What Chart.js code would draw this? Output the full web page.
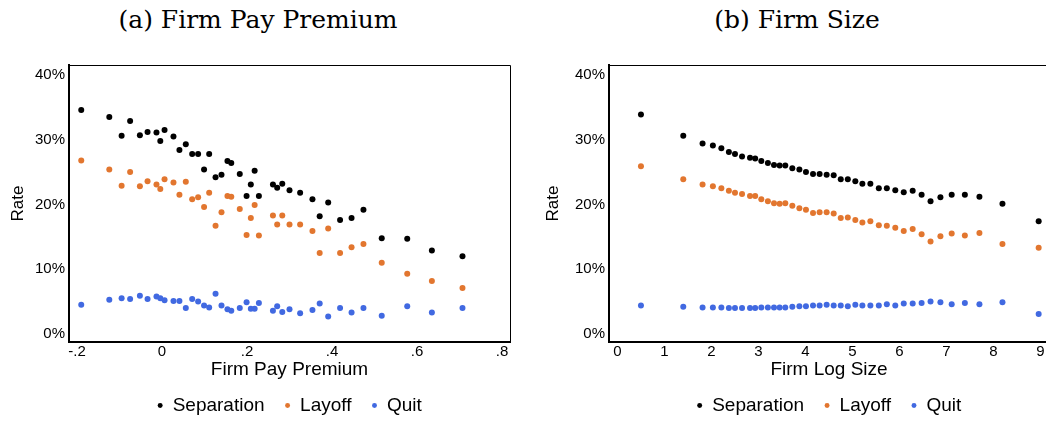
<!DOCTYPE html>
<html>
<head>
<meta charset="utf-8">
<script src="https://cdn.jsdelivr.net/npm/chart.js@4.4.1/dist/chart.umd.min.js"></script>
<style>
  html, body { margin: 0; padding: 0; background: #fff; }
  #page { position: relative; width: 1046px; height: 421px; overflow: hidden; }
  .panel-title {
    position: absolute; top: 5px; height: 30px; line-height: 30px;
    text-align: center; font-family: "DejaVu Serif", serif; font-size: 25px; color: #000;
  }
  canvas { position: absolute; top: 0; }
</style>
</head>
<body>
<div id="page">
  <div class="panel-title" style="left:0;width:516px">(a) Firm Pay Premium</div>
  <div class="panel-title" style="left:523px;width:548px">(b) Firm Size</div>
  <canvas id="premiumChart" width="516" height="425" style="left:0"></canvas>
  <canvas id="sizeChart" width="548" height="425" style="left:523px"></canvas>
</div>

<script>
// =================== DATA ===================

const seriesNames = ['Separation', 'Layoff', 'Quit'];
const seriesColors = ['#000000', '#E2762F', '#4169E1'];
const rateTicks = [0, 10, 20, 30, 40];

// (a) firm pay premium bins
const premiumX = [-0.19, -0.124, -0.095, -0.075, -0.052, -0.034, -0.013, -0.004, 0.006, 0.027,
  0.041, 0.056, 0.071, 0.085, 0.099, 0.111, 0.126, 0.140, 0.154, 0.163,
  0.183, 0.199, 0.209, 0.218, 0.228, 0.261, 0.271, 0.283, 0.300, 0.325,
  0.354, 0.371, 0.391, 0.419, 0.446, 0.474, 0.517, 0.577, 0.635, 0.707];
const premiumSeparation = [34.6, 33.5, 30.6, 32.9, 30.7, 31.2, 31.1, 29.8, 31.5, 30.5,
  28.4, 29.3, 27.8, 27.8, 25.4, 27.8, 24.2, 24.6, 26.7, 26.4,
  24.7, 21.3, 23.1, 25.2, 21.3, 23.1, 22.6, 23.2, 22.2, 21.8,
  20.8, 18.2, 20.3, 17.6, 17.9, 19.2, 14.8, 14.7, 12.9, 12.0];
const premiumLayoff = [26.8, 25.4, 22.9, 25.0, 22.8, 23.6, 23.1, 22.4, 23.9, 23.4,
  21.5, 23.5, 20.8, 21.1, 19.6, 21.8, 16.7, 18.8, 21.3, 21.2,
  19.3, 15.3, 17.9, 19.9, 15.2, 18.3, 16.9, 18.3, 16.9, 16.9,
  15.9, 12.5, 16.3, 12.5, 13.4, 13.9, 11.0, 9.3, 8.2, 7.1];
const premiumQuit = [4.5, 5.3, 5.5, 5.4, 5.9, 5.4, 5.8, 5.5, 5.2, 5.1,
  5.1, 4.0, 5.4, 5.0, 4.4, 4.1, 6.2, 4.4, 3.8, 3.6,
  4.0, 4.9, 3.9, 3.9, 4.8, 3.6, 4.3, 3.4, 3.8, 3.2,
  3.7, 4.7, 2.7, 4.0, 3.3, 4.0, 2.8, 4.3, 3.3, 4.0];
const premiumTicks = [-0.2, 0, 0.2, 0.4, 0.6, 0.8];
const premiumTickLabels = ['-.2', '0', '.2', '.4', '.6', '.8'];

// (b) firm log size bins
const sizeX = [0.50, 1.40, 1.81, 2.03, 2.21, 2.37, 2.50, 2.65, 2.82, 2.93,
  3.06, 3.20, 3.33, 3.45, 3.57, 3.72, 3.87, 4.01, 4.16, 4.30,
  4.45, 4.60, 4.75, 4.90, 5.06, 5.21, 5.38, 5.56, 5.73, 5.91,
  6.09, 6.28, 6.47, 6.66, 6.87, 7.11, 7.39, 7.70, 8.19, 8.96];
const sizeSeparation = [33.9, 30.6, 29.4, 29.1, 28.7, 28.1, 27.8, 27.4, 27.2, 27.1,
  26.7, 26.4, 26.1, 26.0, 26.0, 25.6, 25.4, 25.0, 24.7, 24.7,
  24.6, 24.5, 23.9, 23.9, 23.6, 23.2, 23.2, 22.5, 22.5, 22.2,
  21.9, 22.1, 21.5, 20.5, 21.1, 21.5, 21.5, 21.2, 20.1, 17.4];
const sizeLayoff = [25.9, 23.9, 23.1, 22.8, 22.5, 22.1, 21.8, 21.6, 21.3, 21.3,
  20.8, 20.5, 20.2, 20.1, 20.2, 19.8, 19.4, 19.2, 18.7, 18.8,
  18.8, 18.6, 17.9, 18.0, 17.6, 17.2, 17.4, 16.8, 16.7, 16.4,
  15.9, 16.2, 15.4, 14.3, 15.1, 15.5, 15.2, 15.6, 13.9, 13.3];
const sizeQuit = [4.4, 4.2, 4.1, 4.1, 4.1, 4.0, 4.0, 4.0, 4.0, 4.0,
  4.1, 4.1, 4.1, 4.1, 4.1, 4.2, 4.3, 4.3, 4.4, 4.4,
  4.5, 4.4, 4.4, 4.3, 4.5, 4.4, 4.4, 4.4, 4.6, 4.4,
  4.7, 4.7, 4.8, 5.0, 4.9, 4.6, 4.8, 4.6, 4.9, 3.1];
const sizeTicks = [0, 1, 2, 3, 4, 5, 6, 7, 8, 9];
const sizeTickLabels = ['0', '1', '2', '3', '4', '5', '6', '7', '8', '9'];


// =================== CHART SETUP ===================

Chart.defaults.font.family = '"Liberation Sans", Arial, sans-serif';
Chart.defaults.color = '#000';

// thin top/right edge of the plot box
const plotFrame = {
  id: 'plotFrame',
  afterDraw(chart) {
    const { ctx, chartArea: a } = chart;
    ctx.save();
    ctx.strokeStyle = '#000';
    ctx.lineWidth = 1;
    ctx.beginPath();
    ctx.moveTo(a.left, a.top + 0.5);
    ctx.lineTo(a.right + 0.5, a.top + 0.5);
    ctx.lineTo(a.right + 0.5, a.bottom);
    ctx.stroke();
    ctx.restore();
  }
};

function toPoints(xs, ys) {
  return xs.map((x, i) => ({ x: x, y: ys[i] }));
}

function makeChart(id, cfg) {
  const seriesValues = [cfg.separation, cfg.layoff, cfg.quit];
  return new Chart(document.getElementById(id), {
    type: 'scatter',
    data: {
      datasets: seriesNames.map((name, k) => ({
        label: name,
        data: toPoints(cfg.xs, seriesValues[k]),
        backgroundColor: seriesColors[k],
        borderWidth: 0,
        pointRadius: 3,
        pointHoverRadius: 3
      }))
    },
    options: {
      responsive: false,
      animation: false,
      events: [],
      layout: { padding: { top: 65, right: cfg.padRight, bottom: 0, left: 0 } },
      plugins: {
        tooltip: { enabled: false },
        legend: {
          position: 'bottom',
          fullSize: false,
          labels: {
            usePointStyle: true,
            pointStyle: 'circle',
            boxWidth: 6,
            boxHeight: 3.5,
            padding: 20,
            color: '#000',
            font: { size: 19 }
          }
        }
      },
      scales: {
        x: {
          type: 'linear',
          min: cfg.xMin,
          max: cfg.xMax,
          afterBuildTicks: s => { s.ticks = cfg.ticks.map(v => ({ value: v })); },
          afterFit: s => { s.height = 34; },
          grid: { display: false, drawTicks: false },
          border: { display: true, color: '#000', width: 2 },
          ticks: {
            padding: 1,
            color: '#000',
            font: { size: 15 },
            maxRotation: 0,
            callback: (v, i) => cfg.tickLabels[i]
          },
          title: {
            display: true,
            text: cfg.xTitle,
            color: '#000',
            font: { size: 19, lineHeight: 0.63 },
            padding: 0
          }
        },
        y: {
          min: -1.24,
          max: 41.54,
          afterBuildTicks: s => { s.ticks = rateTicks.map(v => ({ value: v })); },
          afterFit: s => { s.width = cfg.yWidth; },
          grid: { display: false, drawTicks: false },
          border: { display: true, color: '#000', width: 2 },
          ticks: {
            padding: 4,
            color: '#000',
            font: { size: 15 },
            callback: v => v + '%'
          },
          title: {
            display: true,
            text: 'Rate',
            color: '#000',
            font: { size: 17 },
            padding: { top: cfg.rateOffset, bottom: 0 }
          }
        }
      }
    },
    plugins: [plotFrame]
  });
}

makeChart('premiumChart', {
  xs: premiumX, separation: premiumSeparation, layoff: premiumLayoff, quit: premiumQuit,
  xMin: -0.2188, xMax: 0.8188, ticks: premiumTicks, tickLabels: premiumTickLabels,
  xTitle: 'Firm Pay Premium', yWidth: 69, padRight: 6, rateOffset: 8
});

makeChart('sizeChart', {
  xs: sizeX, separation: sizeSeparation, layoff: sizeLayoff, quit: sizeQuit,
  xMin: -0.18, xMax: 9.18, ticks: sizeTicks, tickLabels: sizeTickLabels,
  xTitle: 'Firm Log Size', yWidth: 86, padRight: 22, rateOffset: 20
});
</script>
</body>
</html>
